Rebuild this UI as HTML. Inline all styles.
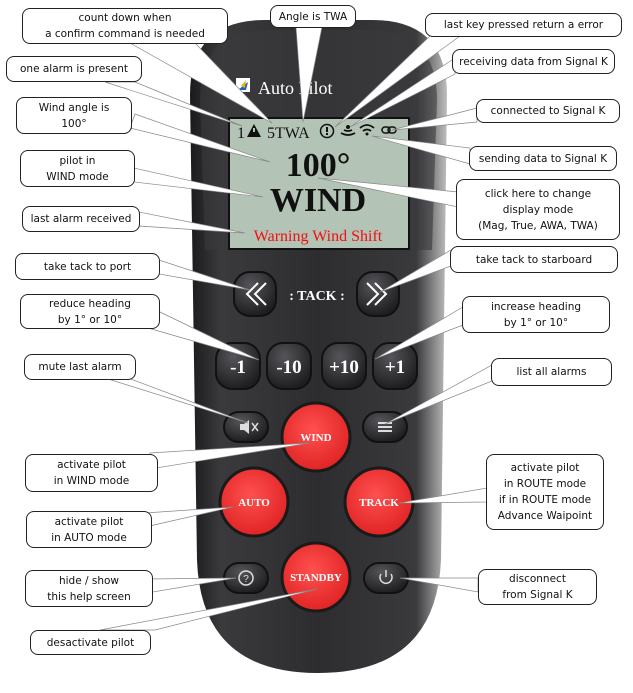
<!DOCTYPE html>
<html><head><meta charset="utf-8"><style>
body{margin:0;width:633px;height:693px;background:#fff;position:relative;overflow:hidden;font-family:"DejaVu Sans","Liberation Sans",sans-serif}
svg{position:absolute;left:0;top:0}
.b{position:absolute;background:#fff;border:1px solid #222;border-radius:8px;font-size:10.5px;color:#111;text-align:center;line-height:16px;display:flex;align-items:center;justify-content:center;box-sizing:border-box}
</style></head><body>
<svg width="633" height="693" viewBox="0 0 633 693">
<defs>
<linearGradient id="dev" x1="0" x2="1" y1="0" y2="0"><stop offset="0" stop-color="#1a1a1c"/><stop offset="0.12" stop-color="#3a3a3d"/><stop offset="0.5" stop-color="#2d2d30"/><stop offset="0.88" stop-color="#3a3a3d"/><stop offset="1" stop-color="#bfbfbf"/></linearGradient>
<radialGradient id="red" cx="0.45" cy="0.4" r="0.6"><stop offset="0" stop-color="#ff5050"/><stop offset="1" stop-color="#e02424"/></radialGradient>
<radialGradient id="blk" cx="0.4" cy="0.3" r="0.7"><stop offset="0" stop-color="#55555a"/><stop offset="1" stop-color="#1e1e20"/></radialGradient>
</defs>
<path d="M190,95 Q190,20 265,20 L372,20 Q447,20 447,95 L441,560 Q436,673 318,673 Q201,673 197,560 Z" fill="url(#dev)"/>
<path d="M200,100 Q200,30 268,30 L368,30 Q437,30 437,100 L432,250 L205,250 Z" fill="#3a3a3e" opacity="0.6"/>
<rect x="228" y="117" width="182" height="133" fill="#111"/>
<rect x="230" y="119" width="178" height="129" fill="#b3c3b5"/>
<rect x="236" y="78" width="14" height="14" fill="#fff"/><path d="M238,90 L248,82 L246,90 Z" fill="#1f5fbf"/><path d="M241,86 L246,80 L245,88Z" fill="#e8b400"/>
<text x="258" y="94" font-family="Liberation Serif" font-size="18" fill="#fff">Auto Pilot</text>
<text x="237" y="138" font-family="Liberation Serif" font-size="16" fill="#111">1</text>
<path d="M247,137 L254,124 L261,137 Z" fill="#111"/><rect x="253" y="128" width="2" height="4" fill="#b3c3b5"/>
<text x="267" y="138" font-family="Liberation Serif" font-size="16" fill="#111">5TWA</text>
<circle cx="327" cy="131" r="6.5" fill="none" stroke="#111" stroke-width="1.5"/><rect x="326" y="127" width="2" height="5" fill="#111"/><rect x="326" y="133" width="2" height="2" fill="#111"/>
<path d="M341,133 q7,4 14,0 M344,130 q4,2 8,0" stroke="#111" stroke-width="1.8" fill="none"/><circle cx="348" cy="127" r="2" fill="#111"/>
<path d="M360,128 q7,-6 14,0 M363,131 q4,-3 8,0" stroke="#111" stroke-width="1.8" fill="none"/><circle cx="367" cy="134" r="1.5" fill="#111"/>
<rect x="382" y="127" width="8" height="6" rx="3" fill="none" stroke="#111" stroke-width="1.5"/><rect x="388" y="127" width="8" height="6" rx="3" fill="none" stroke="#111" stroke-width="1.5"/>
<text x="318" y="176" font-family="Liberation Serif" font-size="34" font-weight="bold" text-anchor="middle" fill="#111">100°</text>
<text x="318" y="211" font-family="Liberation Serif" font-size="34" font-weight="bold" text-anchor="middle" fill="#111">WIND</text>
<text x="318" y="241" font-family="Liberation Serif" font-size="16" text-anchor="middle" fill="#f01010">Warning Wind Shift</text>
<g fill="url(#blk)" stroke="#111" stroke-width="2">
<rect x="234" y="272" width="42" height="44" rx="16"/><rect x="357" y="272" width="42" height="44" rx="16"/>
<rect x="216" y="343" width="44" height="46" rx="16"/><rect x="267" y="343" width="44" height="46" rx="16"/>
<rect x="322" y="343" width="44" height="46" rx="16"/><rect x="373" y="343" width="44" height="46" rx="16"/>
<rect x="224" y="412" width="44" height="30" rx="15"/><rect x="363" y="412" width="44" height="30" rx="15"/>
<rect x="224" y="563" width="44" height="30" rx="15"/><rect x="364" y="563" width="44" height="30" rx="15"/>
</g>
<g stroke="#fff" stroke-width="2" fill="none"><path d="M258,283 L247,294 L258,305 M266,283 L255,294 L266,305"/><path d="M367,283 L378,294 L367,305 M375,283 L386,294 L375,305"/></g>
<text x="317" y="300" font-family="Liberation Serif" font-size="14" font-weight="bold" text-anchor="middle" fill="#fff">: TACK :</text>
<g font-family="Liberation Serif" font-size="19" font-weight="bold" fill="#fff" text-anchor="middle"><text x="238" y="373">-1</text><text x="289" y="373">-10</text><text x="344" y="373">+10</text><text x="395" y="373">+1</text></g>
<path d="M240,424 h4 l5,-4 v14 l-5,-4 h-4 Z" fill="#ddd"/><path d="M252,423 l6,8 M258,423 l-6,8" stroke="#ddd" stroke-width="1.5"/>
<g fill="#ddd"><rect x="378" y="422" width="14" height="2"/><rect x="378" y="426" width="14" height="2"/><rect x="378" y="430" width="14" height="2"/></g>
<circle cx="246" cy="578" r="7" fill="none" stroke="#ddd" stroke-width="1.5"/><text x="246" y="582" font-size="10" text-anchor="middle" fill="#ddd" font-family="Liberation Sans">?</text>
<path d="M381,574 a6,6 0 1 0 10,0" fill="none" stroke="#ddd" stroke-width="1.5"/><path d="M386,570 v7" stroke="#ddd" stroke-width="1.5"/>
<g fill="url(#red)" stroke="#1a1a1a" stroke-width="3">
<circle cx="316" cy="437" r="34"/><circle cx="254" cy="502" r="34"/><circle cx="379" cy="502" r="34"/><circle cx="316" cy="577" r="34"/>
</g>
<g font-family="Liberation Serif" font-size="11" font-weight="bold" fill="#fff" text-anchor="middle"><text x="316" y="441">WIND</text><text x="254" y="506">AUTO</text><text x="379" y="506">TRACK</text><text x="316" y="581">STANDBY</text></g>
<g fill="#fff" stroke="#888" stroke-width="0.7">
<polygon points="130,43 195,43 272,123"/>
<polygon points="296,27 322,27 303,122"/>
<polygon points="430,36 460,36 335,127"/>
<polygon points="455,58 455,74 350,127"/>
<polygon points="105,82 135,82 242,126"/>
<polygon points="477,108 477,122 392,130"/>
<polygon points="135,114 130,128 270,162"/>
<polygon points="470,148 470,164 372,136"/>
<polygon points="134,168 134,182 263,197"/>
<polygon points="458,192 458,207 318,178"/>
<polygon points="139,212 139,226 245,233"/>
<polygon points="159,260 159,274 250,290"/>
<polygon points="451,250 451,266 380,292"/>
<polygon points="148,328 160,312 259,360"/>
<polygon points="463,307 463,325 375,359"/>
<polygon points="128,378 105,378 248,423"/>
<polygon points="492,365 492,381 385,424"/>
<polygon points="150,453 150,469 310,443"/>
<polygon points="487,488 487,502 399,503"/>
<polygon points="145,513 145,527 233,507"/>
<polygon points="147,579 147,593 236,578"/>
<polygon points="478,578 478,592 400,578"/>
<polygon points="100,630 155,630 317,589"/>
</g>
</svg>
<div class="b" style="left:22px;top:8px;width:206px;height:36px">count down when<br>a confirm command is needed</div>
<div class="b" style="left:270px;top:5px;width:86px;height:23px">Angle is TWA</div>
<div class="b" style="left:425px;top:13px;width:197px;height:24px">last key pressed return a error</div>
<div class="b" style="left:452px;top:49px;width:163px;height:25px">receiving data from Signal K</div>
<div class="b" style="left:6px;top:56px;width:136px;height:26px">one alarm is present</div>
<div class="b" style="left:476px;top:99px;width:144px;height:24px">connected to Signal K</div>
<div class="b" style="left:16px;top:97px;width:116px;height:37px">Wind angle is<br>100°</div>
<div class="b" style="left:469px;top:146px;width:148px;height:25px">sending data to Signal K</div>
<div class="b" style="left:20px;top:150px;width:115px;height:37px">pilot in<br>WIND mode</div>
<div class="b" style="left:456px;top:179px;width:164px;height:61px">click here to change<br>display mode<br>(Mag, True, AWA, TWA)</div>
<div class="b" style="left:22px;top:206px;width:118px;height:26px">last alarm received</div>
<div class="b" style="left:15px;top:253px;width:145px;height:27px">take tack to port</div>
<div class="b" style="left:450px;top:246px;width:168px;height:27px">take tack to starboard</div>
<div class="b" style="left:20px;top:294px;width:140px;height:35px">reduce heading<br>by 1° or 10°</div>
<div class="b" style="left:462px;top:296px;width:148px;height:37px">increase heading<br>by 1° or 10°</div>
<div class="b" style="left:24px;top:354px;width:112px;height:26px">mute last alarm</div>
<div class="b" style="left:491px;top:358px;width:121px;height:28px">list all alarms</div>
<div class="b" style="left:25px;top:454px;width:133px;height:38px">activate pilot<br>in WIND mode</div>
<div class="b" style="left:486px;top:454px;width:118px;height:76px">activate pilot<br>in ROUTE mode<br>if in ROUTE mode<br>Advance Waipoint</div>
<div class="b" style="left:26px;top:511px;width:126px;height:37px">activate pilot<br>in AUTO mode</div>
<div class="b" style="left:25px;top:570px;width:128px;height:37px">hide / show<br>this help screen</div>
<div class="b" style="left:478px;top:569px;width:119px;height:36px">disconnect<br>from Signal K</div>
<div class="b" style="left:30px;top:630px;width:121px;height:25px">desactivate pilot</div>
</body></html>
